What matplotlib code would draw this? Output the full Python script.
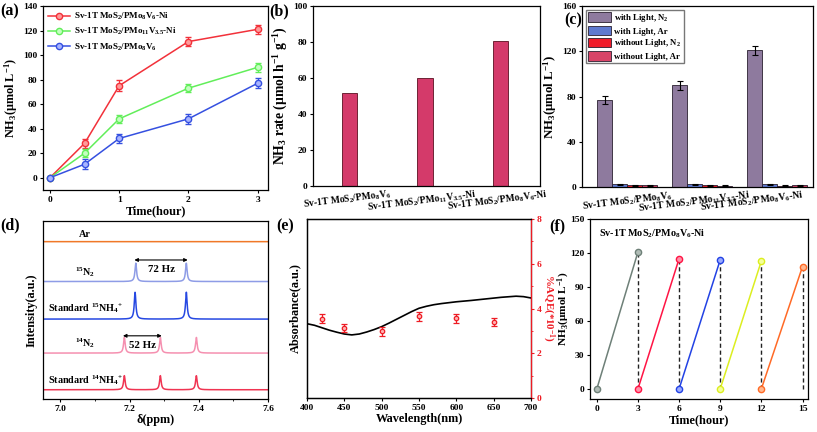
import numpy as np
import matplotlib
matplotlib.use("Agg")
import matplotlib.pyplot as plt
from matplotlib.lines import Line2D

plt.rcParams["font.family"] = ["Liberation Serif", "DejaVu Serif"]
plt.rcParams["font.weight"] = "bold"
plt.rcParams["axes.labelweight"] = "bold"
plt.rcParams["mathtext.fontset"] = "custom"
plt.rcParams["mathtext.rm"] = "Liberation Serif:bold"
plt.rcParams["mathtext.it"] = "Liberation Serif:italic:bold"
plt.rcParams["mathtext.bf"] = "Liberation Serif:bold"
plt.rcParams["axes.linewidth"] = 0.9
plt.rcParams["xtick.major.size"] = 2.5
plt.rcParams["ytick.major.size"] = 2.5
plt.rcParams["xtick.major.width"] = 0.8
plt.rcParams["ytick.major.width"] = 0.8

TS = 6.8   # tick size
LS = 8.8   # label size

# ---- (a) NH3 vs time
time_a = [0, 0.5, 1, 2, 3]
nh3_ni = [0, 28, 75, 111, 121]
nh3_ni_err = [0, 3.5, 4.5, 3.5, 3.5]
nh3_mo11 = [0, 20, 48, 73, 90]
nh3_mo11_err = [0, 3.5, 3.5, 3.5, 3.5]
nh3_v6 = [0, 11, 32, 48, 77]
nh3_v6_err = [0, 4, 3.5, 4, 4]
names_a = ["Sv-1T MoS$_2$/PMo$_8$V$_6$-Ni",
           "Sv-1T MoS$_2$/PMo$_{11}$V$_{3.5}$-Ni",
           "Sv-1T MoS$_2$/PMo$_8$V$_6$"]

# ---- (b) rates
cats_b = ["Sv-1T MoS$_2$/PMo$_8$V$_6$",
          "Sv-1T MoS$_2$/PMo$_{11}$V$_{3.5}$-Ni",
          "Sv-1T MoS$_2$/PMo$_8$V$_6$-Ni"]
rate_b = [51.5, 60.0, 80.5]

# ---- (c) control experiments
conds_c = ["with Light, N$_2$", "with Light, Ar",
           "without Light, N$_2$", "without Light, Ar"]
vals_c = [[77, 90, 121], [2.3, 2.5, 2.3], [1.5, 1.6, 1.3], [1.6, 1.3, 1.4]]
err_c = [[3.5, 4, 4], [0.4, 0.4, 0.4], [0.3, 0.3, 0.3], [0.3, 0.3, 0.3]]
lab_pos_c = [0.0, 0.9, 1.66]   # where the category names sit

# ---- (d) NMR spectra: (label, baseline, peak positions, peak heights)
nmr_labels = ["Ar", "$^{15}$N$_2$", "Standard $^{15}$NH$_4$$^{+}$",
              "$^{14}$N$_2$", "Standard $^{14}$NH$_4$$^{+}$"]
nmr_base = [0.884, 0.660, 0.449, 0.258, 0.052]
nmr_pos = [[], [7.218, 7.364], [7.216, 7.364],
           [7.185, 7.289, 7.393], [7.185, 7.289, 7.393]]
nmr_h = [[], [0.103, 0.103], [0.151, 0.151],
         [0.088, 0.088, 0.088], [0.079, 0.079, 0.079]]

# ---- (e) absorbance + AQE
wl_abs = [400, 410, 420, 430, 440, 450, 460, 470, 480, 490, 500, 510, 520,
          530, 540, 550, 560, 570, 580, 590, 600, 620, 640, 660, 680, 690, 700]
absorb = [3.32, 3.25, 3.14, 3.03, 2.94, 2.86, 2.82, 2.86, 2.95, 3.06, 3.19,
          3.35, 3.52, 3.69, 3.86, 4.01, 4.10, 4.17, 4.22, 4.26, 4.30, 4.36,
          4.43, 4.50, 4.55, 4.53, 4.47]
wl_aqe = [420, 450, 500, 550, 600, 650]
aqe = [3.55, 3.14, 2.99, 3.65, 3.56, 3.40]
aqe_err = [0.22, 0.18, 0.2, 0.2, 0.2, 0.18]

# ---- (f) cycling
cyc_t = [[0, 3], [3, 6], [6, 9], [9, 12], [12, 15]]
cyc_v = [[0, 121], [0, 115], [0, 114], [0, 113], [0, 108]]

fig = plt.figure(figsize=(8.17, 4.32), dpi=100)
W, H = 817, 432


def add_ax(l, r, t, b):
    return fig.add_axes([l / W, 1 - b / H, (r - l) / W, (b - t) / H])


def style(ax):
    ax.tick_params(labelsize=TS, pad=1.5)
    for lab in ax.get_xticklabels() + ax.get_yticklabels():
        lab.set_fontweight("bold")


# (a)
ax = add_ax(43, 268, 6, 190)
cols_a = ["#f2313a", "#62ee5a", "#3550e0"]
mfc_a = ["#ff9a9a", "#c4ffc0", "#a8b4ff"]
handles = []
for y, e, c, mf, n in zip([nh3_ni, nh3_mo11, nh3_v6],
                          [nh3_ni_err, nh3_mo11_err, nh3_v6_err],
                          cols_a, mfc_a, names_a):
    ax.errorbar(time_a, y, yerr=e, color=c, lw=1.1, marker="o", ms=4.5,
                mfc=mf, mec=c, mew=1.0, capsize=2, elinewidth=0.9)
    handles.append(Line2D([], [], color=c, lw=1.1, marker="o", ms=4.5,
                          mfc=mf, mec=c, mew=1.0, label=n))
ax.set_xlim(-0.1, 3.15)
ax.set_ylim(-10, 140)
ax.set_xticks([0, 1, 2, 3])
ax.set_yticks(range(0, 141, 20))
ax.set_xlabel("Time(hour)", fontsize=LS, labelpad=1)
ax.set_ylabel("NH$_3$(μmol L$^{-1}$)", fontsize=LS, labelpad=2)
ax.legend(handles=handles, loc="upper left", fontsize=6.5, frameon=False,
          handlelength=2.4, borderaxespad=0.15, labelspacing=0.45,
          handletextpad=0.5)
style(ax)

# (b)
ax = add_ax(313, 540, 6, 186)
xb = np.arange(len(rate_b))
ax.bar(xb, rate_b, width=0.2, color="#d43a6a", edgecolor="#5a1020", lw=0.6)
ax.set_xlim(-0.49, 2.53)
ax.set_ylim(0, 100)
ax.set_yticks(range(0, 101, 20))
ax.set_xticks(xb - 0.04)
ax.set_xticklabels(cats_b, rotation=7, ha="center")
ax.tick_params(axis="x", length=0)
ax.set_ylabel("NH$_3$ rate (μmol h$^{-1}$ g$^{-1}$)", fontsize=9.8,
              labelpad=2)
style(ax)
ax.tick_params(axis="x", labelsize=6.9)

# (c)
ax = add_ax(582, 813, 6, 187)
cols_c = ["#8e7a9e", "#5f7ad0", "#f01c2a", "#d84468"]
xc = np.arange(3)
for i in range(4):
    ax.bar(xc + (i - 1.5) * 0.2, vals_c[i], width=0.2, yerr=err_c[i],
           color=cols_c[i], edgecolor="#2a2030", lw=0.6, capsize=2,
           error_kw=dict(elinewidth=0.8, capthick=0.8), label=conds_c[i])
ax.set_xlim(-0.6, 2.48)
ax.set_ylim(0, 160)
ax.set_yticks(range(0, 161, 40))
ax.set_xticks(lab_pos_c)
ax.set_xticklabels(cats_b, rotation=7, ha="center")
ax.tick_params(axis="x", length=0)
ax.set_ylabel("NH$_3$(μmol L$^{-1}$)", fontsize=9.3, labelpad=2)
ax.legend(loc="upper left", fontsize=6.3, frameon=True, fancybox=False,
          edgecolor="#555555", handlelength=2.6, handleheight=1.3,
          borderaxespad=0.4, labelspacing=0.2, handletextpad=0.4,
          borderpad=0.3)
style(ax)
ax.tick_params(axis="x", labelsize=7.1)

# (d)
ax = add_ax(43, 268, 221, 399)
cols_d = ["#f07828", "#8e9ce6", "#2648e2", "#f590b0", "#f03452"]
ppm = np.linspace(6.95, 7.6, 1500)
hw = 0.0028
for lab, b, pos, hs, c in zip(nmr_labels, nmr_base, nmr_pos, nmr_h, cols_d):
    y = np.full_like(ppm, b)
    for p, h in zip(pos, hs):
        y += h / (1 + ((ppm - p) / hw) ** 2)
    ax.plot(ppm, y, color=c, lw=1.1)
lab_y = [0.925, 0.715, 0.510, 0.315, 0.105]
for lab, yy in zip(nmr_labels, lab_y):
    ax.text(7.072, yy, lab, fontsize=7.3, ha="center", va="center")
ax.annotate("", xy=(7.214, 0.781), xytext=(7.368, 0.781),
            arrowprops=dict(arrowstyle="<|-|>", color="black", lw=0.8,
                            mutation_scale=5, shrinkA=0, shrinkB=0))
ax.text(7.291, 0.725, "72 Hz", fontsize=7.8, ha="center", va="center")
ax.annotate("", xy=(7.181, 0.355), xytext=(7.293, 0.355),
            arrowprops=dict(arrowstyle="<|-|>", color="black", lw=0.8,
                            mutation_scale=5, shrinkA=0, shrinkB=0))
ax.text(7.237, 0.300, "52 Hz", fontsize=7.8, ha="center", va="center")
ax.set_xlim(6.95, 7.6)
ax.set_ylim(0, 1)
ax.set_yticks([])
ax.set_xticks([7.0, 7.2, 7.4, 7.6])
ax.set_xticks([7.1, 7.3, 7.5], minor=True)
ax.tick_params(axis="x", which="minor", length=1.5)
ax.set_xticklabels(["7.0", "7.2", "7.4", "7.6"])
ax.set_xlabel("δ(ppm)", fontsize=LS, labelpad=1)
ax.set_ylabel("Intensity(a.u.)", fontsize=LS, labelpad=4)
style(ax)

# (e)
ax = add_ax(307, 531, 219, 398)
ax.plot(wl_abs, absorb, color="black", lw=1.2)
ax.set_xlim(400, 700)
ax.set_ylim(0, 8)
ax.set_yticks([])
ax.set_xticks(range(400, 701, 50))
ax.set_xlabel("Wavelength(nm)", fontsize=LS, labelpad=1)
ax.set_ylabel("Absorbance(a.u.)", fontsize=LS, labelpad=4)
style(ax)
ax2 = ax.twinx()
ax2.errorbar(wl_aqe, aqe, yerr=aqe_err, fmt="o", color="#ee1c24", ms=3.2,
             mfc="#ffb0b0", mec="#ee1c24", mew=0.9, capsize=2,
             elinewidth=0.9)
ax2.set_ylim(0, 8)
ax2.set_yticks(range(0, 9, 2))
ax2.set_yticks(range(1, 9, 2), minor=True)
ax2.spines["right"].set_color("#ee1c24")
ax2.tick_params(axis="y", colors="#ee1c24", labelsize=TS, pad=1.5)
ax2.tick_params(axis="y", which="minor", length=1.5, color="#ee1c24")
ax2.set_ylabel("%AQE(*10$^{-1}$)", fontsize=7.8, color="#ee1c24",
               rotation=270)
ax2.yaxis.set_label_coords(1.112, 0.5)
for lab in ax2.get_yticklabels():
    lab.set_fontweight("bold")
    lab.set_color("#ee1c24")

# (f)
ax = add_ax(590, 808, 219, 399)
cols_f = ["#6e8078", "#ff1444", "#2242e4", "#dcee20", "#ff6a26"]
mfc_f = ["#b0bcb6", "#ff90a8", "#9aaaff", "#f4ff9a", "#ffb890"]
for t, v, c, mf in zip(cyc_t, cyc_v, cols_f, mfc_f):
    ax.plot(t, v, color=c, lw=1.1, marker="o", ms=4.5, mfc=mf, mec=c, mew=1)
    ax.plot([t[1], t[1]], [0, v[1]], color="#222222", lw=1.0, ls=(0, (3, 2)),
            zorder=1)
ax.set_xlim(-0.5, 15.4)
ax.set_ylim(-9, 150)
ax.set_xticks(range(0, 16, 3))
ax.set_yticks(range(0, 151, 30))
ax.set_xlabel("Time(hour)", fontsize=LS, labelpad=1)
ax.set_ylabel("NH$_3$(μmol L$^{-1}$)", fontsize=8.2)
ax.yaxis.set_label_coords(-0.083, 0.5)
ax.text(0.04, 0.955, "Sv-1T MoS$_2$/PMo$_8$V$_6$-Ni", transform=ax.transAxes,
        fontsize=7.3, ha="left", va="top")
style(ax)

# panel letters
for lab, x, y in [("(a)", 0, 3), ("(b)", 269, 3), ("(c)", 564, 12),
                  ("(d)", 0, 217), ("(e)", 276, 218), ("(f)", 549, 218)]:
    fig.text(x / W, 1 - y / H, lab, fontsize=11.5, fontweight="bold",
             ha="left", va="top")

fig.savefig("out.png", dpi=100)
